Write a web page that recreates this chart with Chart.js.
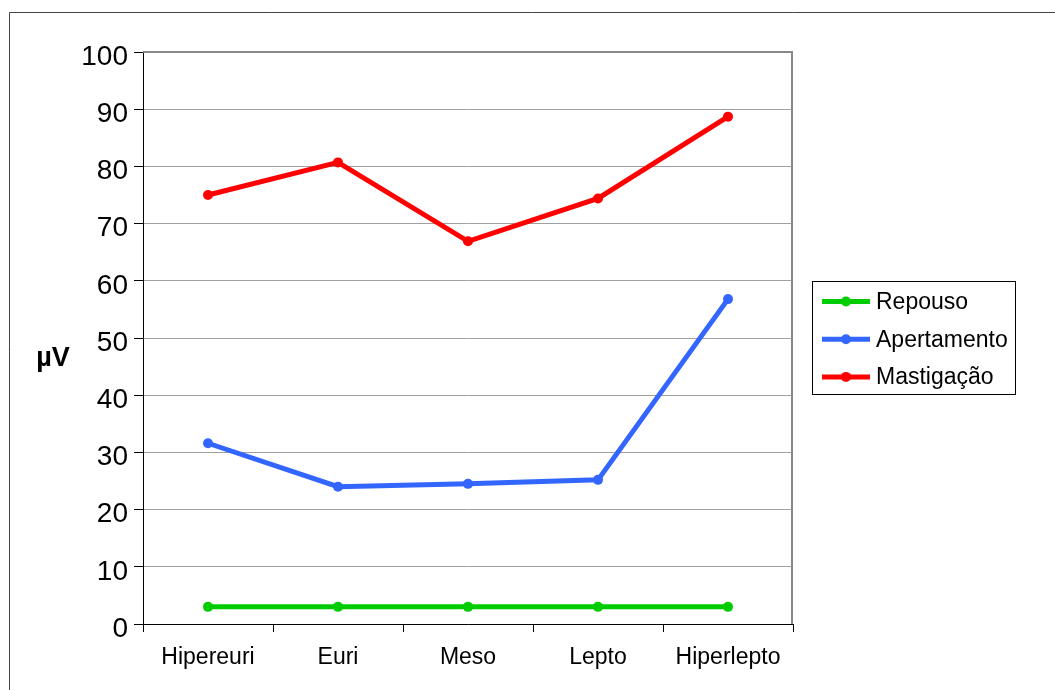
<!DOCTYPE html>
<html>
<head>
<meta charset="utf-8">
<script src="https://cdn.jsdelivr.net/npm/chart.js@4/dist/chart.umd.min.js"></script>
<style>
  html, body { margin: 0; padding: 0; background: #fff; }
  #wrap { width: 1055px; height: 690px; position: relative; }
</style>
</head>
<body>
<div id="wrap"><canvas id="c" width="1055" height="690"></canvas></div>
<script>
// Biotipos faciais
const categories = ['Hipereuri', 'Euri', 'Meso', 'Lepto', 'Hiperlepto'];
// Atividade EMG média (µV) por condição
const repouso = [3.0, 3.0, 3.0, 3.0, 3.0];
const apertamento = [31.6, 24.0, 24.5, 25.2, 56.8];
const mastigacao = [75.0, 80.7, 66.9, 74.4, 88.7];
const seriesNames = ['Repouso', 'Apertamento', 'Mastigação'];
const seriesColors = ['#00cc00', '#3366ff', '#ff0000'];
const yTicks = [0, 10, 20, 30, 40, 50, 60, 70, 80, 90, 100];
const yTitle = 'µV';

const FONT = '"Liberation Sans", Arial, sans-serif';

function lineDataset(label, data, color) {
  return {
    label: label,
    data: data,
    borderColor: color,
    backgroundColor: color,
    borderWidth: 5,
    pointRadius: 5,
    pointHoverRadius: 5,
    pointBorderWidth: 0,
    pointBackgroundColor: color,
    tension: 0,
    fill: false,
    clip: false
  };
}

// Frame, plot border, boxed legend and the axis unit label
const decorations = {
  id: 'decorations',
  beforeDraw(chart) {
    const ctx = chart.ctx;
    ctx.save();
    ctx.strokeStyle = '#444';
    ctx.lineWidth = 1;
    ctx.beginPath();
    ctx.moveTo(9.5, chart.height);
    ctx.lineTo(9.5, 12.5);
    ctx.lineTo(chart.width, 12.5);
    ctx.stroke();
    ctx.restore();
  },
  afterDatasetsDraw(chart) {
    const ctx = chart.ctx;
    const a = chart.chartArea;
    ctx.save();
    // top and right edges of plot
    ctx.strokeStyle = '#888';
    ctx.lineWidth = 2;
    ctx.beginPath();
    ctx.moveTo(a.left, Math.round(a.top));
    ctx.lineTo(Math.round(a.right) - 1, Math.round(a.top));
    ctx.lineTo(Math.round(a.right) - 1, a.bottom);
    ctx.stroke();

    // legend
    const midY = (a.top + a.bottom) / 2;
    const bx = Math.round(a.right) + 19.5;
    const bw = 203, bh = 113;
    const by = Math.round(midY - bh / 2) - 0.5;
    ctx.fillStyle = '#fff';
    ctx.fillRect(bx, by, bw, bh);
    ctx.strokeStyle = '#000';
    ctx.lineWidth = 1;
    ctx.strokeRect(bx, by, bw, bh);
    const rowGap = 37.7;
    chart.data.datasets.forEach((ds, i) => {
      const ry = by + 20 + i * rowGap;
      ctx.strokeStyle = ds.borderColor;
      ctx.lineWidth = 5;
      ctx.beginPath();
      ctx.moveTo(bx + 9.5, ry);
      ctx.lineTo(bx + 57.5, ry);
      ctx.stroke();
      ctx.fillStyle = ds.borderColor;
      ctx.beginPath();
      ctx.arc(bx + 33.5, ry, 5, 0, Math.PI * 2);
      ctx.fill();
      ctx.fillStyle = '#000';
      ctx.font = '23px ' + FONT;
      ctx.textAlign = 'left';
      ctx.textBaseline = 'middle';
      ctx.fillText(ds.label, bx + 63.5, ry + 1);
    });

    // unit label
    ctx.fillStyle = '#000';
    ctx.font = 'bold 27px ' + FONT;
    ctx.textAlign = 'center';
    ctx.textBaseline = 'middle';
    ctx.fillText(yTitle, a.left - 90, midY + 21);
    ctx.restore();
  }
};

new Chart(document.getElementById('c'), {
  type: 'line',
  data: {
    labels: categories,
    datasets: [
      lineDataset(seriesNames[0], repouso, seriesColors[0]),
      lineDataset(seriesNames[1], apertamento, seriesColors[1]),
      lineDataset(seriesNames[2], mastigacao, seriesColors[2])
    ]
  },
  options: {
    responsive: false,
    animation: false,
    events: [],
    layout: { padding: { left: 0, top: 52, right: 262, bottom: 0 } },
    plugins: {
      legend: { display: false },
      tooltip: { enabled: false },
      title: { display: false }
    },
    scales: {
      x: {
        offset: true,
        grid: {
          offset: true,
          drawOnChartArea: false,
          drawTicks: true,
          tickLength: 8,
          tickColor: '#000',
          tickWidth: 1
        },
        border: { color: '#000', width: 1 },
        ticks: {
          color: '#000',
          font: { family: FONT, size: 23 },
          padding: 12,
          maxRotation: 0,
          autoSkip: false
        },
        afterFit(scale) { scale.height = 66; }
      },
      y: {
        min: yTicks[0],
        max: yTicks[yTicks.length - 1],
        afterBuildTicks(scale) { scale.ticks = yTicks.map(v => ({ value: v })); },
        grid: {
          color: '#a0a0a0',
          lineWidth: 1,
          tickColor: '#000',
          tickLength: 9,
          drawTicks: true
        },
        border: { color: '#000', width: 1 },
        ticks: {
          color: '#000',
          font: { family: FONT, size: 28 },
          padding: 6,
          labelOffset: 5
        },
        afterFit(scale) { scale.width = 143; }
      }
    }
  },
  plugins: [decorations]
});
</script>
</body>
</html>
